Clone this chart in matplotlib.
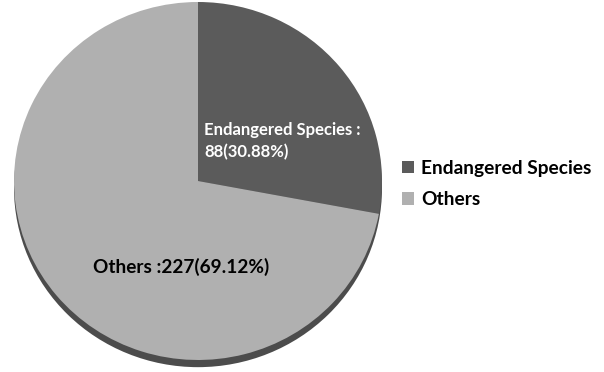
import matplotlib.pyplot as plt
from matplotlib.patches import Ellipse

labels = ["Endangered Species", "Others"]
counts = [88, 227]
pct_text = ["30.88%", "69.12%"]
colors = ["#5b5b5b", "#b0b0b0"]

plt.rcParams['font.family'] = ['Lato', 'DejaVu Sans']

fig = plt.figure(figsize=(6.04, 3.72), dpi=100)
W, H = 604, 372
# pie area in pixels: left 14, top 2, 368 wide, 358 high
ax = fig.add_axes([14 / W, (H - 2 - 358) / H, 368 / W, 358 / H])

wedges, _ = ax.pie(counts, colors=colors, startangle=90, counterclock=False,
                   radius=1.0, wedgeprops=dict(linewidth=0))
ax.set_aspect('auto')
ax.set_xlim(-1, 1)
ax.set_ylim(-1, 1)
ax.axis('off')

# dark rim under the pie
shadow = Ellipse((0, -0.04), 2.0, 2.0, facecolor="#4c4c4c", edgecolor='none',
                 zorder=0, clip_on=False)
ax.add_patch(shadow)

ax.text(0.033, 0.22, f"{labels[0]} :\n{counts[0]}({pct_text[0]})",
        ha='left', va='center', color='white', fontsize=12,
        fontweight='bold', linespacing=1.45)
ax.text(-0.571, -0.48, f"{labels[1]} :{counts[1]}({pct_text[1]})",
        ha='left', va='center', color='black', fontsize=13.7,
        fontweight='bold')

fig.legend(wedges, labels, loc='center left',
           bbox_to_anchor=(402 / W, (H - 184) / H), frameon=False,
           borderpad=0, borderaxespad=0,
           prop=dict(size=13.8, weight='bold'), handlelength=0.65,
           handleheight=0.65, handletextpad=0.35, labelspacing=0.75)

fig.savefig("out.png", dpi=100)
